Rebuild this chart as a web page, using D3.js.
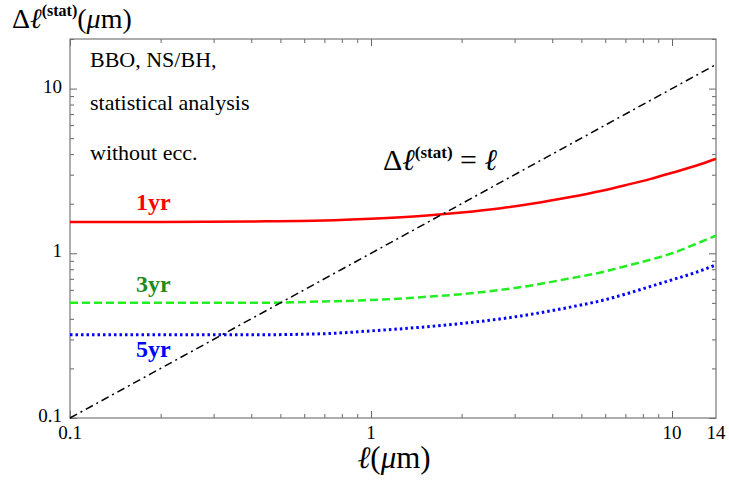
<!DOCTYPE html>
<html>
<head>
<meta charset="utf-8">
<script src="https://cdn.jsdelivr.net/npm/d3@7"></script>
<style>
  body { margin: 0; background: #fff; }
  svg text { font-family: "Liberation Serif", "DejaVu Serif", serif; }
</style>
</head>
<body>
<svg id="chart"></svg>
<script>
// Data
const ell = [0.1, 0.2, 0.4, 0.7, 1, 1.5, 2, 2.7, 3.5, 4.5, 5.8, 7, 8.5, 10, 12, 14];
const dl1yr = [1.55, 1.55, 1.56, 1.58, 1.62, 1.69, 1.77, 1.88, 2.01, 2.18, 2.39, 2.59, 2.83, 3.08, 3.4, 3.75];
const dl3yr = [0.5, 0.5, 0.5, 0.51, 0.52, 0.543, 0.565, 0.6, 0.643, 0.7, 0.765, 0.835, 0.915, 1.0, 1.14, 1.28];
const dl5yr = [0.32, 0.32, 0.32, 0.325, 0.338, 0.357, 0.375, 0.4, 0.43, 0.468, 0.515, 0.565, 0.63, 0.69, 0.766, 0.85];
const diag = [0.1, 14];
const xLabels = [0.1, 1, 10, 14];
const yLabels = [0.1, 1, 10];
const majors = [0.1, 1, 10];

const W = 729, H = 482;
const mLeft = 70, mRight = 716, mTop = 39, mBottom = 418;

const svg = d3.select("#chart").attr("width", W).attr("height", H);

const x = d3.scaleLog().domain([0.1, 14]).range([mLeft, mRight]);
const y = d3.scaleLog().domain([0.1, 20]).range([mBottom, mTop]);

const minorX = x.ticks().filter(d => !majors.includes(+d.toPrecision(3)));
const minorY = y.ticks().filter(d => !majors.includes(+d.toPrecision(3)));

// frame ticks (inward), minor and major on all four sides
function tickGroup(axisFn, scale, vals, size, tr) {
  const g = svg.append("g").attr("transform", tr)
    .call(axisFn(scale).tickValues(vals).tickSize(-size).tickFormat(""));
  g.select(".domain").remove();
  g.selectAll("line").attr("stroke", "#666");
}
tickGroup(d3.axisBottom, x, minorX, 4, `translate(0,${mBottom})`);
tickGroup(d3.axisBottom, x, majors, 7, `translate(0,${mBottom})`);
tickGroup(d3.axisTop, x, minorX, 4, `translate(0,${mTop})`);
tickGroup(d3.axisTop, x, majors, 7, `translate(0,${mTop})`);
tickGroup(d3.axisLeft, y, minorY, 4, `translate(${mLeft},0)`);
tickGroup(d3.axisLeft, y, majors, 7, `translate(${mLeft},0)`);
tickGroup(d3.axisRight, y, minorY, 4, `translate(${mRight},0)`);
tickGroup(d3.axisRight, y, majors, 7, `translate(${mRight},0)`);

svg.append("rect")
  .attr("x", mLeft).attr("y", mTop)
  .attr("width", mRight - mLeft).attr("height", mBottom - mTop)
  .attr("fill", "none").attr("stroke", "#777").attr("stroke-width", 1.2);

// tick labels
svg.append("g").selectAll("text").data(xLabels).join("text")
  .attr("x", d => x(d)).attr("y", mBottom + 21)
  .attr("text-anchor", "middle").attr("font-size", 19)
  .text(d => d);
svg.append("g").selectAll("text").data(yLabels).join("text")
  .attr("x", mLeft - 8).attr("y", d => y(d) + 4)
  .attr("text-anchor", "end").attr("font-size", 19)
  .text(d => d);

// curves
const line = d3.line().x(d => x(d[0])).y(d => y(d[1])).curve(d3.curveMonotoneX);
const series = [
  { v: dl1yr, color: "#ff0000", dash: null, w: 2.5 },
  { v: dl3yr, color: "#22ee22", dash: "8,4", w: 2.5 },
  { v: dl5yr, color: "#0000ff", dash: "2.5,3", w: 3 }
];
series.forEach(s => {
  svg.append("path")
    .datum(ell.map((d, i) => [d, s.v[i]]))
    .attr("d", line)
    .attr("fill", "none")
    .attr("stroke", s.color)
    .attr("stroke-width", s.w)
    .attr("stroke-dasharray", s.dash);
});

svg.append("path")
  .datum(diag.map(d => [d, d]))
  .attr("d", d3.line().x(d => x(d[0])).y(d => y(d[1])))
  .attr("fill", "none").attr("stroke", "#000")
  .attr("stroke-width", 1.5).attr("stroke-dasharray", "8,4,2,4");

// labels inside plot
const notes = [["BBO, NS/BH,", 67], ["statistical analysis", 110], ["without ecc.", 160]];
notes.forEach(([t, yy]) => {
  svg.append("text").attr("x", 90).attr("y", yy).attr("font-size", 22).text(t);
});

const yrs = [["1yr", 210, "#ff0000"], ["3yr", 292, "#1e8c1e"], ["5yr", 357, "#0000ff"]];
yrs.forEach(([t, yy, c]) => {
  svg.append("text").attr("x", 136).attr("y", yy).attr("font-size", 24)
    .attr("font-weight", "bold").attr("fill", c).text(t);
});

// Δℓ(stat) = ℓ annotation
const ann = svg.append("text").attr("x", 383).attr("y", 170).attr("font-size", 30);
ann.append("tspan").text("Δ");
ann.append("tspan").attr("font-style", "italic").text("ℓ");
ann.append("tspan").attr("font-size", 17).attr("font-weight", "bold").attr("dy", -12).text("(stat)");
ann.append("tspan").attr("dy", 12).text(" = ");
ann.append("tspan").attr("font-style", "italic").text("ℓ");

// axis titles
const yt = svg.append("text").attr("x", 12).attr("y", 28).attr("font-size", 28);
yt.append("tspan").text("Δ");
yt.append("tspan").attr("font-style", "italic").text("ℓ");
yt.append("tspan").attr("font-size", 16).attr("font-weight", "bold").attr("dy", -12).text("(stat)");
yt.append("tspan").attr("dy", 12).text("(");
yt.append("tspan").attr("font-style", "italic").text("μ");
yt.append("tspan").text("m)");

const xt = svg.append("text").attr("x", 394).attr("y", 468).attr("font-size", 31).attr("text-anchor", "middle");
xt.append("tspan").attr("font-style", "italic").text("ℓ");
xt.append("tspan").text("(");
xt.append("tspan").attr("font-style", "italic").text("μ");
xt.append("tspan").text("m)");
</script>
</body>
</html>
